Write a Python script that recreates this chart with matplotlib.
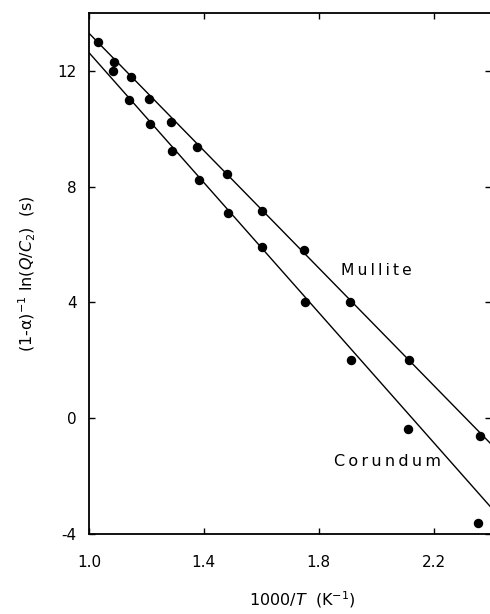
import matplotlib
matplotlib.use('Agg')
import matplotlib.pyplot as plt

# Mullite data points (1000/T, y)
mullite_x = [1.030, 1.088, 1.146, 1.210, 1.285, 1.377, 1.479, 1.602, 1.749, 1.908, 2.113, 2.362]
mullite_y = [13.01, 12.32, 11.78, 11.02, 10.22, 9.36, 8.45, 7.17, 5.80, 4.02, 2.00, -0.63]

# Corundum data points
corundum_x = [1.085, 1.140, 1.212, 1.289, 1.384, 1.485, 1.604, 1.751, 1.914, 2.111, 2.355]
corundum_y = [12.00, 11.00, 10.16, 9.24, 8.24, 7.09, 5.92, 4.02, 2.01, -0.38, -3.62]

# fitted lines, end points
line_x = [1.0, 2.40]
mullite_line = [13.30, -0.89]
corundum_line = [12.63, -3.08]

xticks = [1.0, 1.4, 1.8, 2.2]
xtick_labels = ['1.0', '1.4', '1.8', '2.2']
yticks = [-4, 0, 4, 8, 12]
ytick_labels = ['-4', '0', '4', '8', '12']

plt.rcParams['font.family'] = ['DejaVu Sans']

fig = plt.figure(figsize=(4.9, 6.14), dpi=100)
# right spine sits just outside the picture like in the scan
ax = fig.add_axes([89/490, 80/614, 402/490, 521/614])

ax.plot(line_x, mullite_line, color='black', lw=1.0)
ax.plot(line_x, corundum_line, color='black', lw=1.0)
ax.plot(mullite_x, mullite_y, 'o', color='black', ms=5.8)
ax.plot(corundum_x, corundum_y, 'o', color='black', ms=5.8)

ax.text(2.0, 5.1, '\u2009'.join('Mullite'), fontsize=11.2, ha='center', va='center')
ax.text(2.04, -1.5, '\u2009'.join('Corundum'), fontsize=11.5, ha='center', va='center')

ax.set_xlim(1.0, 2.4)
ax.set_ylim(-4, 14)
ax.set_xticks(xticks)
ax.set_xticklabels(xtick_labels)
ax.set_yticks(yticks)
ax.set_yticklabels(ytick_labels)
ax.tick_params(direction='in', length=4, width=1, labelsize=11,
               top=True, right=True, pad=9)
ax.tick_params(axis='x', pad=15)
for s in ax.spines.values():
    s.set_linewidth(1.3)

ax.set_xlabel('1000/$T$  (K$^{-1}$)', fontsize=11.5, labelpad=14, x=0.53)
ax.set_ylabel('(1-\u03b1)$^{-1}$ ln($Q$/$C_2$)  (s)', fontsize=11.5, labelpad=14)

fig.savefig('out.png', dpi=100)
